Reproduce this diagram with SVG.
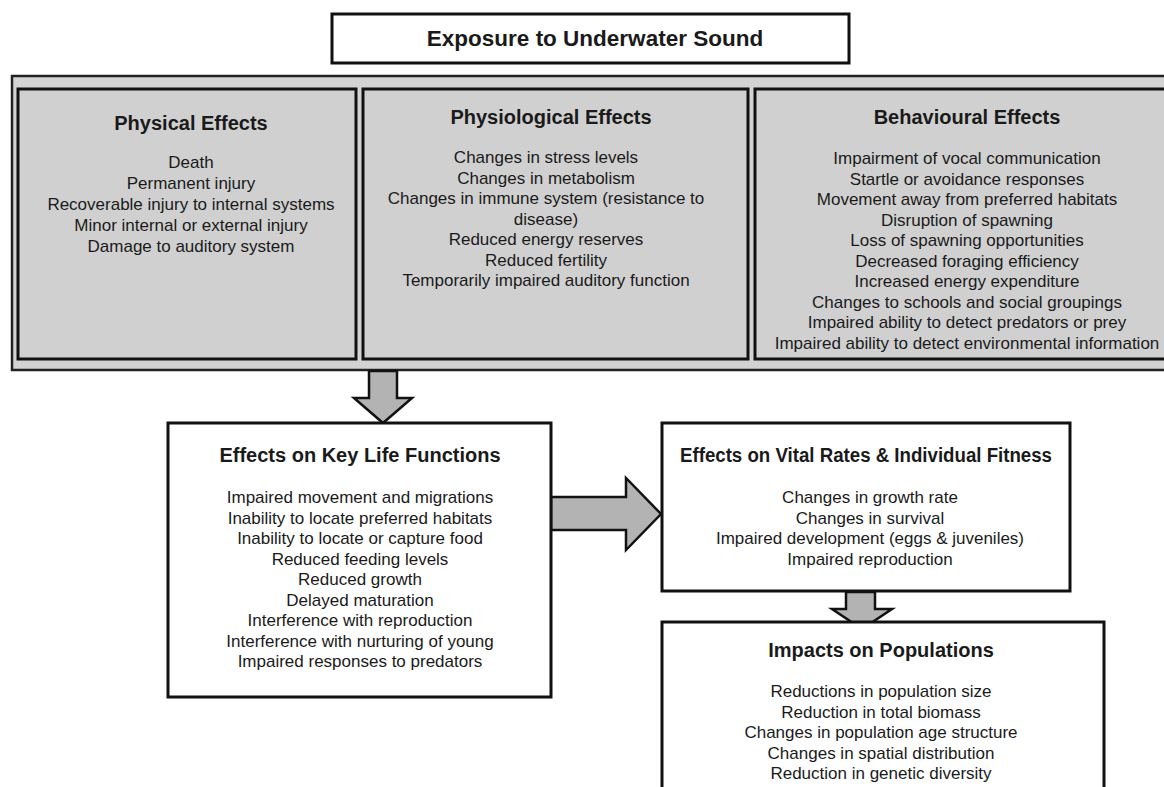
<svg xmlns="http://www.w3.org/2000/svg" width="1164" height="787" viewBox="0 0 1164 787">
<style>
.box{fill:#ffffff;stroke:#111;stroke-width:3}
.gbox{fill:#d0d0d0;stroke:#111;stroke-width:3}
.band{fill:#d3d3d3;stroke:#222;stroke-width:2.5}
.arr{fill:#b3b3b3;stroke:#111;stroke-width:2.5;stroke-linejoin:miter}
text{font-family:"Liberation Sans",Arial,sans-serif;fill:#1a1a1a;text-anchor:middle}
.t{font-weight:bold;font-size:20px}
.tt{font-weight:bold;font-size:22.5px}
.b{font-size:17px}
</style>
<rect width="1164" height="787" fill="#ffffff"/>
<g id="exposure">
<rect class="box" x="332" y="14" width="517" height="49"/>
<text class="tt" x="595" y="46">Exposure to Underwater Sound</text>
</g>
<g id="band">
<rect class="band" x="12" y="76" width="1200" height="294"/>
</g>
<g id="physical">
<rect class="gbox" x="18" y="89" width="338" height="270"/>
<text class="t" x="191" y="130">Physical Effects</text>
<text class="b" x="191" y="168">Death</text>
<text class="b" x="191" y="189">Permanent injury</text>
<text class="b" x="191" y="210">Recoverable injury to internal systems</text>
<text class="b" x="191" y="231">Minor internal or external injury</text>
<text class="b" x="191" y="252">Damage to auditory system</text>
</g>
<g id="physiological">
<rect class="gbox" x="363" y="89" width="385" height="270"/>
<text class="t" x="551" y="124">Physiological Effects</text>
<text class="b" x="546" y="163">Changes in stress levels</text>
<text class="b" x="546" y="183.5">Changes in metabolism</text>
<text class="b" x="546" y="204">Changes in immune system (resistance to</text>
<text class="b" x="546" y="224.5">disease)</text>
<text class="b" x="546" y="245">Reduced energy reserves</text>
<text class="b" x="546" y="265.5">Reduced fertility</text>
<text class="b" x="546" y="286">Temporarily impaired auditory function</text>
</g>
<g id="behavioural">
<rect class="gbox" x="755" y="89" width="450" height="270"/>
<text class="t" x="967" y="124">Behavioural Effects</text>
<text class="b" x="967" y="164">Impairment of vocal communication</text>
<text class="b" x="967" y="184.5">Startle or avoidance responses</text>
<text class="b" x="967" y="205">Movement away from preferred habitats</text>
<text class="b" x="967" y="225.5">Disruption of spawning</text>
<text class="b" x="967" y="246">Loss of spawning opportunities</text>
<text class="b" x="967" y="266.5">Decreased foraging efficiency</text>
<text class="b" x="967" y="287">Increased energy expenditure</text>
<text class="b" x="967" y="307.5">Changes to schools and social groupings</text>
<text class="b" x="967" y="328">Impaired ability to detect predators or prey</text>
<text class="b" x="967" y="348.5">Impaired ability to detect environmental information</text>
</g>
<g id="connectors">
<polygon class="arr" points="369,371 397,371 397,398 412,398 383,423 354,398 369,398"/>
<polygon class="arr" points="551,497 626,497 626,478 661,514 626,550 626,530 551,530"/>
<polygon class="arr" points="846,592 875,592 875,609 892,609 862,629 832,609 846,609"/>
</g>
<g id="keylife">
<rect class="box" x="168" y="423" width="383" height="274"/>
<text class="t" x="360" y="462">Effects on Key Life Functions</text>
<text class="b" x="360" y="503">Impaired movement and migrations</text>
<text class="b" x="360" y="523.5">Inability to locate preferred habitats</text>
<text class="b" x="360" y="544">Inability to locate or capture food</text>
<text class="b" x="360" y="564.5">Reduced feeding levels</text>
<text class="b" x="360" y="585">Reduced growth</text>
<text class="b" x="360" y="605.5">Delayed maturation</text>
<text class="b" x="360" y="626">Interference with reproduction</text>
<text class="b" x="360" y="646.5">Interference with nurturing of young</text>
<text class="b" x="360" y="667">Impaired responses to predators</text>
</g>
<g id="vital">
<rect class="box" x="662" y="423" width="408" height="168"/>
<text class="t" x="866" y="462" textLength="372" lengthAdjust="spacingAndGlyphs">Effects on Vital Rates &amp; Individual Fitness</text>
<text class="b" x="870" y="503">Changes in growth rate</text>
<text class="b" x="870" y="523.5">Changes in survival</text>
<text class="b" x="870" y="544">Impaired development (eggs &amp; juveniles)</text>
<text class="b" x="870" y="564.5">Impaired reproduction</text>
</g>
<g id="impacts">
<rect class="box" x="662" y="622" width="442" height="200"/>
<text class="t" x="881" y="657">Impacts on Populations</text>
<text class="b" x="881" y="697">Reductions in population size</text>
<text class="b" x="881" y="717.5">Reduction in total biomass</text>
<text class="b" x="881" y="738">Changes in population age structure</text>
<text class="b" x="881" y="758.5">Changes in spatial distribution</text>
<text class="b" x="881" y="779">Reduction in genetic diversity</text>
</g>
</svg>
